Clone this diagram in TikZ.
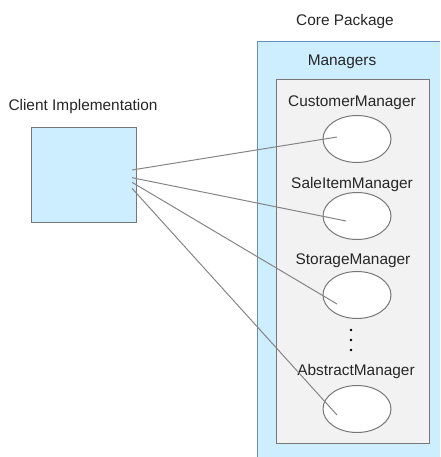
\documentclass[tikz,border=0pt]{standalone}
\usepackage{fontspec}
\setmainfont{Liberation Sans}
\usetikzlibrary{shapes.geometric}
\definecolor{pkgblue}{HTML}{CCEEFF}
\definecolor{pkgline}{HTML}{6A8FBF}
\definecolor{boxgray}{HTML}{F2F2F2}
\definecolor{edgegray}{HTML}{777777}
\definecolor{wiregray}{HTML}{858585}
\tikzset{
  lbl/.style={font=\fontsize{15.4}{18}\selectfont, text=black!85, inner sep=0pt, anchor=center},
  mgr/.style={ellipse, draw=edgegray, line width=1pt, fill=white, minimum width=68pt, minimum height=47pt, inner sep=0pt},
  wire/.style={draw=wiregray, line width=1pt},
  dotm/.style={circle, fill=black, inner sep=0pt, minimum size=2.6pt}
}
\begin{document}
\begin{tikzpicture}[x=1pt,y=-1pt]
\useasboundingbox (0,0) rectangle (440,457);
% core package
\fill[pkgblue] (257,42) rectangle (440,457);
\draw[pkgline, line width=1pt] (440,42) -- (257,42) -- (257,457);
\node[lbl] (corelbl) at (345,22) {Core Package};
% managers box
\draw[edgegray, fill=boxgray, line width=1pt] (276,80) rectangle (429,443);
\node[lbl] (mgrlbl) at (342,61.5) {Managers};
% client
\node[lbl] (clientlbl) at (83,107) {Client Implementation};
\node[draw=edgegray, fill=pkgblue, line width=1pt, minimum width=105pt, minimum height=94pt, inner sep=0pt] (client) at (83.5,175) {};
\coordinate (c1) at (132,170);
\coordinate (c2) at (132,177.7);
\coordinate (c3) at (132,182.3);
\coordinate (c4) at (132,188.3);
% managers
\node[lbl] (l1) at (352,102.5) {CustomerManager};
\node[mgr] (m1) at (357,139) {};
\node[lbl] (l2) at (352,185) {SaleItemManager};
\node[mgr] (m2) at (357,216) {};
\node[lbl] (l3) at (353,261) {StorageManager};
\node[mgr] (m3) at (357,295) {};
\node[dotm] (d1) at (351,330) {};
\node[dotm] (d2) at (351,340) {};
\node[dotm] (d3) at (351,350) {};
\node[lbl] (l4) at (356,372) {AbstractManager};
\node[mgr] (m4) at (357,409) {};
\coordinate (e1) at (337,137);
\coordinate (e2) at (346,221);
\coordinate (e3) at (337,304);
\coordinate (e4) at (337,415);
\draw[wire] (c1) -- (e1);
\draw[wire] (c2) -- (e2);
\draw[wire] (c3) -- (e3);
\draw[wire] (c4) -- (e4);
\end{tikzpicture}
\end{document}
